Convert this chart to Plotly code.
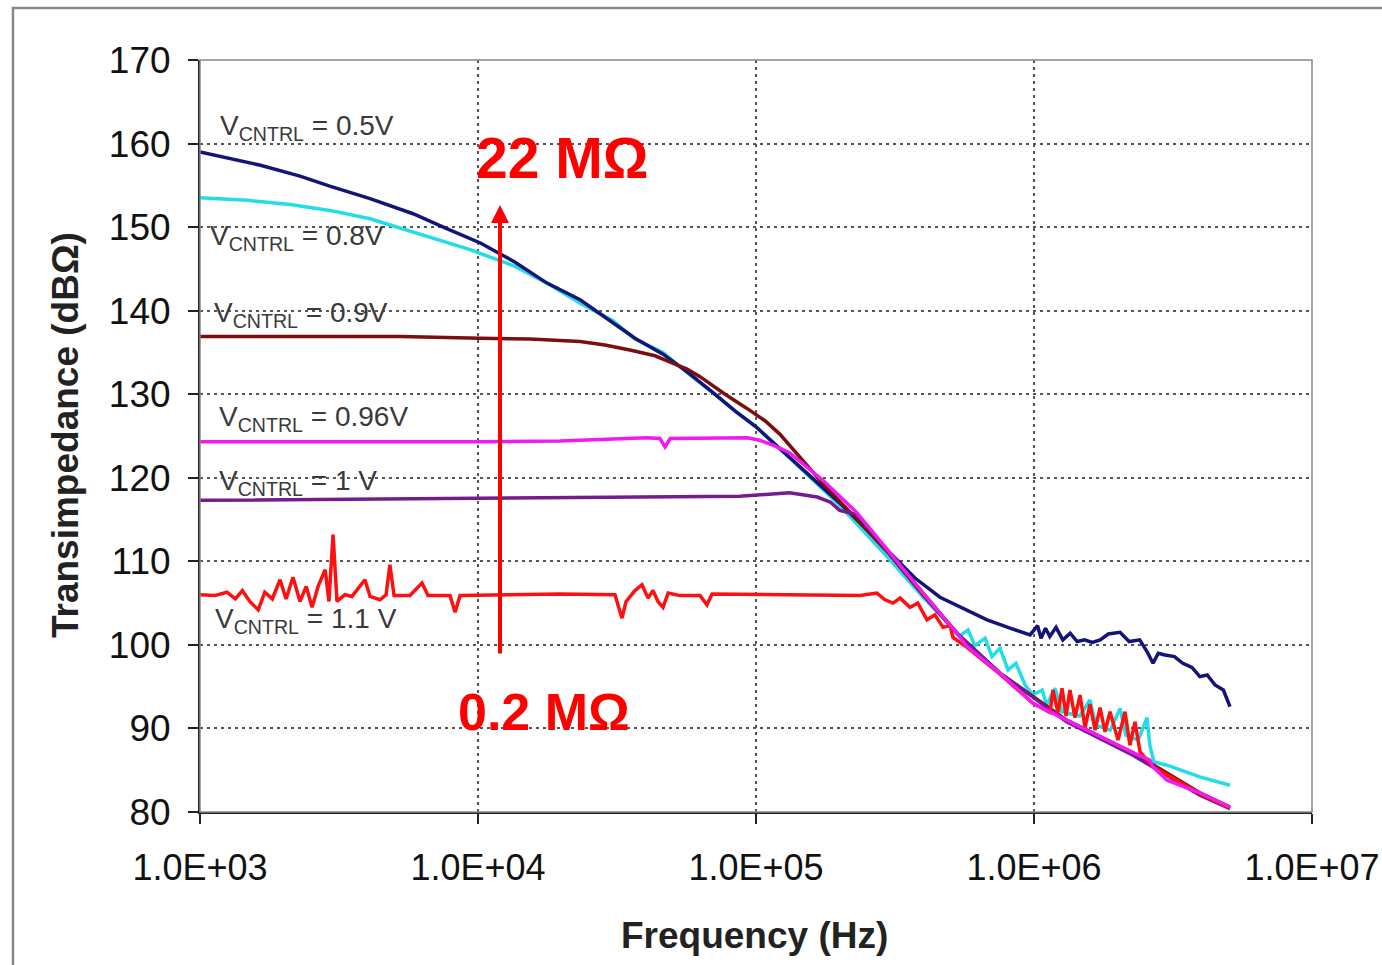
import plotly.graph_objects as go

# ---------------- data ----------------
f_05 = [1000, 1280, 1650, 2290, 2930, 4090, 5840, 7610, 10200, 13600, 17700, 23300, 30600,
        36700, 46300, 57900, 70000, 84000, 100000, 132000, 163000, 200000, 247000,
        303000, 373000, 459000, 565000, 678000, 820000, 968000, 1.03e6, 1.06e6, 1.10e6,
        1.14e6, 1.20e6, 1.27e6, 1.35e6, 1.43e6, 1.52e6, 1.62e6, 1.73e6, 1.85e6, 2.04e6,
        2.20e6, 2.40e6, 2.55e6, 2.68e6, 2.80e6, 2.96e6, 3.20e6, 3.43e6, 3.70e6, 3.95e6,
        4.20e6, 4.48e6, 4.80e6, 5.07e6]
z_05 = [159.0, 158.2, 157.4, 156.1, 154.9, 153.4, 151.6, 149.9, 148.1, 145.8, 143.3, 141.3,
        138.6, 136.7, 134.8, 132.4, 130.2, 128.0, 126.1, 122.5, 119.7, 117.0, 114.0,
        111.0, 108.0, 105.7, 104.3, 103.0, 102.0, 101.2, 102.3, 100.8, 102.0,
        101.0, 102.1, 100.6, 101.4, 100.4, 100.6, 100.3, 100.6, 101.3, 101.5,
        100.4, 100.6, 99.2, 97.8, 99.0, 98.8, 98.6, 97.8, 97.3, 96.2,
        96.4, 95.2, 94.6, 92.6]

f_08 = [1000, 1480, 2110, 2930, 4090, 5840, 7610, 9360, 13600, 17700, 23300, 30600, 36700,
        46300, 57900, 70000, 84000, 100000, 132000, 200000,
        303000, 399000, 459000, 542000, 579000, 613000, 667000, 706000, 755000, 806000,
        861000, 929000, 991000, 1.07e6, 1.11e6, 1.19e6, 1.26e6, 1.46e6, 1.59e6, 1.67e6,
        1.88e6, 2.04e6, 2.14e6, 2.37e6, 2.55e6, 2.61e6, 2.70e6, 3.01e6, 3.95e6, 5.07e6]
z_08 = [153.5, 153.2, 152.7, 152.0, 151.0, 149.4, 148.2, 147.3, 145.3, 143.3, 140.9, 138.8,
        136.6, 135.0, 132.3, 130.2, 128.0, 126.1, 122.4, 116.7,
        110.2, 105.7, 103.6, 101.1, 101.8, 99.9, 100.8, 98.6, 99.6, 97.0,
        97.8, 95.2, 94.0, 94.6, 92.8, 94.8, 92.0, 91.5, 93.4, 90.4,
        89.8, 92.4, 89.2, 88.6, 91.3, 88.0, 86.0, 85.6, 84.2, 83.2]

f_09 = [1000, 2290, 5250, 10200, 15400, 23300, 28600, 35200, 43300, 46300, 56500, 62900,
        70000, 77400, 92800, 108000, 122000, 132000, 150000, 174000, 231000, 303000,
        399000, 528000, 755000, 1.31e6, 2.27e6, 3.95e6, 5.07e6]
z_09 = [136.9, 136.9, 136.9, 136.7, 136.6, 136.3, 135.9, 135.3, 134.6, 134.2, 133.0, 132.1,
        131.0, 130.0, 128.3, 126.8, 125.2, 123.9, 121.8, 119.3, 115.0, 110.8,
        106.0, 101.4, 96.6, 91.0, 87.1, 82.3, 80.6]

f_096 = [1000, 2290, 5250, 10200, 19700, 40500, 45100, 47100, 49100, 92800, 103000, 115000,
         132000, 174000, 231000, 303000, 399000, 528000, 574000, 755000, 991000, 1.31e6,
         1.73e6, 2.27e6, 2.61e6, 2.68e6, 3.01e6, 3.95e6, 5.07e6]
z_096 = [124.3, 124.3, 124.2, 124.3, 124.4, 124.8, 124.7, 123.7, 124.7, 124.8, 124.5, 123.9,
         123.0, 119.7, 115.8, 111.0, 106.2, 101.4, 99.8, 96.6, 93.0, 91.0,
         89.0, 87.1, 86.2, 85.4, 83.8, 82.3, 80.6]

f_10 = [1000, 10200, 32400, 87600, 132000, 166000, 185000, 200000, 231000, 303000, 399000,
        528000, 755000, 1.31e6, 2.27e6, 3.95e6, 5.07e6]
z_10 = [117.3, 117.6, 117.7, 117.8, 118.2, 117.7, 117.1, 116.1, 115.6, 111.0, 106.2,
        101.4, 96.6, 90.8, 86.8, 82.0, 80.4]

f_11 = [1000, 1130, 1250, 1340, 1420, 1510, 1620, 1710, 1820, 1940, 2040, 2160, 2290, 2410,
        2530, 2660, 2820, 2910, 3010, 3110, 3320, 3520, 3920, 4090, 4440, 4670, 4820, 4990,
        5690, 6290, 6610, 7930, 8270, 8620, 19720, 31100, 32400, 32960, 34100, 36700, 38900,
        40900, 42600, 44400, 46300, 48300, 53300, 62900, 66600, 69500, 236600, 272000,
        291000, 311000, 330000, 358000, 382000, 412000, 440000, 471000, 499000, 511000,
        574000, 755000, 992000, 1.142e6, 1.170e6, 1.220e6, 1.261e6, 1.304e6, 1.347e6,
        1.404e6, 1.464e6, 1.526e6, 1.590e6, 1.658e6, 1.728e6, 1.801e6, 1.877e6, 2.006e6,
        2.125e6, 2.214e6, 2.308e6, 2.406e6, 2.680e6, 3.955e6, 5.07e6]
z_11 = [106.0, 105.9, 106.3, 105.5, 106.5, 105.2, 104.2, 106.3, 105.5, 107.8, 105.5, 108.1,
        105.2, 107.0, 104.5, 107.0, 109.0, 105.2, 113.2, 105.2, 106.0, 105.8, 107.8, 105.8,
        105.4, 106.0, 109.6, 105.9, 105.9, 107.4, 105.9, 105.9, 103.9, 105.9, 106.1, 106.0,
        104.0, 103.2, 105.2, 106.5, 107.2, 105.6, 106.5, 105.2, 104.5, 106.2, 105.9, 105.9,
        104.8, 106.1, 105.9, 106.2, 105.4, 105.0, 105.6, 104.5, 105.0, 103.0, 103.6, 102.1,
        102.3, 100.9, 99.7, 96.5, 93.0, 91.9, 94.6, 91.9, 94.8, 91.5, 94.6, 91.3, 94.0, 90.1,
        92.9, 89.8, 92.5, 89.6, 92.0, 88.6, 92.0, 88.0, 90.8, 87.2, 85.4, 82.2, 80.5]

x_tick_vals = [1e3, 1e4, 1e5, 1e6, 1e7]
x_tick_text = ["1.0E+03", "1.0E+04", "1.0E+05", "1.0E+06", "1.0E+07"]
y_tick_vals = [80, 90, 100, 110, 120, 130, 140, 150, 160, 170]

labels = ["0.5V", "0.8V", "0.9V", "0.96V", "1 V", "1.1 V"]

# ---------------- figure ----------------
FONT = "Liberation Sans, Arial, sans-serif"
fig = go.Figure()

traces = [
    (f_08, z_08, "#22dde6", "V=0.8V"),
    (f_05, z_05, "#141478", "V=0.5V"),
    (f_09, z_09, "#7a0f0f", "V=0.9V"),
    (f_10, z_10, "#741c8c", "V=1V"),
    (f_11, z_11, "#ff1010", "V=1.1V"),
    (f_096, z_096, "#f21af2", "V=0.96V"),
]
for fx, zy, col, nm in traces:
    fig.add_trace(go.Scatter(x=fx, y=zy, mode="lines", name=nm,
                             line=dict(color=col, width=3.5),
                             showlegend=False))

fig.update_layout(
    width=1382, height=965, autosize=False,
    margin=dict(l=200, r=70, t=60, b=153),
    paper_bgcolor="white", plot_bgcolor="white",
    font=dict(family=FONT, color="#111"),
)
fig.update_xaxes(type="log", range=[3, 7], tickvals=x_tick_vals, ticktext=x_tick_text,
                 showgrid=True, gridcolor="#555", gridwidth=1.5, griddash="3px,4px",
                 showline=True, linecolor="#222", linewidth=2,
                 ticks="outside", ticklen=10, tickwidth=2, tickcolor="#222",
                 tickfont=dict(size=36, family=FONT, color="#111"),
                 zeroline=False, automargin=False, ticklabelstandoff=13)
fig.update_yaxes(range=[80, 170], tickvals=y_tick_vals,
                 showgrid=True, gridcolor="#555", gridwidth=1.5, griddash="3px,4px",
                 showline=True, linecolor="#222", linewidth=2,
                 ticks="outside", ticklen=10, tickwidth=2, tickcolor="#222",
                 tickfont=dict(size=37, family=FONT, color="#111"),
                 zeroline=False, automargin=False, ticklabelstandoff=10)

# plot frame (top/right) and outer picture frame
fig.add_shape(type="rect", xref="x domain", yref="y domain", x0=0, x1=1, y0=0, y1=1,
              line=dict(color="#888", width=1.5), layer="above")
fig.add_shape(type="rect", xref="paper", yref="paper", x0=-0.1682, x1=1.3, y0=-0.4, y1=1.0691,
              line=dict(color="#888", width=2.5), layer="above")

# curve labels
lab_pos = [(0.0162, 0.9096), (0.0072, 0.7633), (0.0108, 0.6622),
           (0.0153, 0.5239), (0.0153, 0.4388), (0.0117, 0.2540)]
for txt, (px, py) in zip(labels, lab_pos):
    fig.add_annotation(xref="paper", yref="paper", x=px, y=py, xanchor="left", yanchor="middle",
                       text="V<sub>CNTRL</sub> = " + txt, showarrow=False,
                       font=dict(size=28, family=FONT, color="#3a3a3a"))

# range annotation
fig.add_annotation(xref="paper", yref="paper", x=0.2464, y=0.8697, xanchor="left", yanchor="middle",
                   text="<b>22 MΩ</b>", showarrow=False,
                   font=dict(size=57, family=FONT, color="#ff0000"))
fig.add_annotation(xref="paper", yref="paper", x=0.2300, y=0.1330, xanchor="left", yanchor="middle",
                   text="<b>0.2 MΩ</b>", showarrow=False,
                   font=dict(size=52, family=FONT, color="#ff0000"))
fig.add_annotation(xref="paper", yref="paper", x=0.2698, y=0.8072, ax=0, ay=450,
                   axref="pixel", ayref="pixel", text="", showarrow=True,
                   arrowhead=2, arrowsize=0.9, arrowwidth=4, arrowcolor="#ff0000")

# axis titles
fig.add_annotation(xref="paper", yref="paper", x=-0.1214, y=0.5013, textangle=-90,
                   text="<b>Transimpedance (dBΩ)</b>", showarrow=False,
                   xanchor="center", yanchor="middle",
                   font=dict(size=37, family=FONT, color="#222"))
fig.add_annotation(xref="paper", yref="paper", x=0.4991, y=-0.1636,
                   text="<b>Frequency (Hz)</b>", showarrow=False,
                   xanchor="center", yanchor="middle",
                   font=dict(size=37, family=FONT, color="#222"))

fig.write_html("out.html")
